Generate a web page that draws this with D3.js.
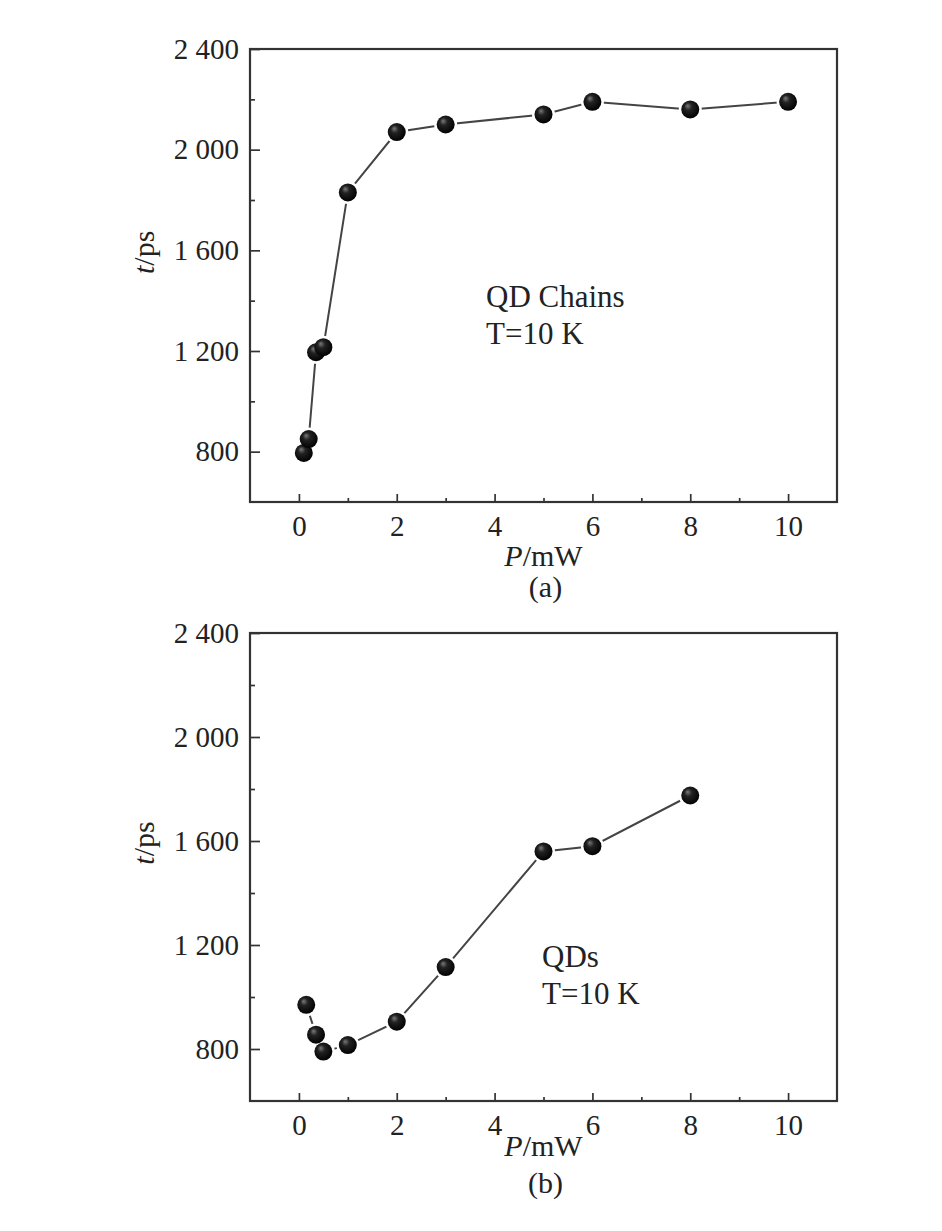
<!DOCTYPE html>
<html>
<head>
<meta charset="utf-8">
<script src="https://cdn.jsdelivr.net/npm/d3@7"></script>
<style>
  body { margin: 0; background: #fff; }
  svg { display: block; }
  text { font-family: "Liberation Serif", "Times New Roman", serif; fill: #222; }
</style>
</head>
<body>
<svg id="chart" width="942" height="1231"></svg>
<script>
// panel (a): QD chains
const powerA = [0.1, 0.2, 0.35, 0.5, 1, 2, 3, 5, 6, 8, 10];
const lifetimeA = [795, 850, 1195, 1215, 1830, 2070, 2100, 2140, 2190, 2160, 2190];
// panel (b): QDs
const powerB = [0.15, 0.35, 0.5, 1, 2, 3, 5, 6, 8];
const lifetimeB = [970, 855, 790, 815, 905, 1115, 1560, 1580, 1775];

const xMajor = [0, 2, 4, 6, 8, 10];
const xMinor = [1, 3, 5, 7, 9];
const yMajor = [800, 1200, 1600, 2000, 2400];
const yMinor = [1000, 1400, 1800, 2200];

const svg = d3.select("#chart");

const defs = svg.append("defs");
const ball = defs.append("radialGradient")
  .attr("id", "ball")
  .attr("cx", "45%").attr("cy", "42%")
  .attr("fx", "35%").attr("fy", "30%")
  .attr("r", "60%");
ball.append("stop").attr("offset", "0%").attr("stop-color", "#7a7a7a");
ball.append("stop").attr("offset", "35%").attr("stop-color", "#222");
ball.append("stop").attr("offset", "100%").attr("stop-color", "#000");

function drawPanel(opts) {
  const { left, right, top, bottom, xs, ys, note, tag, titleDy } = opts;
  const x = d3.scaleLinear().domain([-1, 11]).range([left, right]);
  const y = d3.scaleLinear().domain([600, 2400]).range([bottom, top]);
  const g = svg.append("g");

  // ticks pointing inward
  g.append("g").attr("transform", `translate(${left},0)`)
    .call(d3.axisLeft(y).tickValues(yMajor).tickSize(-10).tickSizeOuter(0).tickPadding(11)
      .tickFormat(d => d3.format(",")(d).replace(",", " ")));
  g.append("g").attr("transform", `translate(${left},0)`)
    .call(d3.axisLeft(y).tickValues(yMinor).tickSize(-5).tickSizeOuter(0).tickFormat(""));
  g.append("g").attr("transform", `translate(0,${bottom})`)
    .call(d3.axisBottom(x).tickValues(xMajor).tickSize(-8).tickSizeOuter(0).tickPadding(13));
  g.append("g").attr("transform", `translate(0,${bottom})`)
    .call(d3.axisBottom(x).tickValues(xMinor).tickSize(-4).tickSizeOuter(0).tickFormat(""));

  g.selectAll(".domain").remove();
  g.selectAll(".tick line").attr("stroke", "#333").attr("stroke-width", 1.7);
  g.selectAll(".tick text").attr("font-size", 29).attr("fill", "#222")
    .attr("font-family", "'Liberation Serif', 'Times New Roman', serif");

  g.append("rect")
    .attr("x", left).attr("y", top)
    .attr("width", right - left).attr("height", bottom - top)
    .attr("fill", "none").attr("stroke", "#333").attr("stroke-width", 2.2);

  const pts = xs.map((v, i) => [v, ys[i]]);
  const line = d3.line().x(d => x(d[0])).y(d => y(d[1]));
  g.append("path").datum(pts)
    .attr("fill", "none").attr("stroke", "#444").attr("stroke-width", 2)
    .attr("d", line);

  // white halo so the line stops short of each ball
  g.append("g").selectAll("circle").data(pts).join("circle")
    .attr("cx", d => x(d[0])).attr("cy", d => y(d[1])).attr("r", 11.5)
    .attr("fill", "#fff");
  g.append("g").selectAll("circle").data(pts).join("circle")
    .attr("cx", d => x(d[0])).attr("cy", d => y(d[1])).attr("r", 9)
    .attr("fill", "url(#ball)");

  // note text
  const t = g.append("text").attr("x", note.x).attr("y", note.y).attr("font-size", 31);
  t.append("tspan").attr("x", note.x).text(note.line1);
  t.append("tspan").attr("x", note.x).attr("dy", 37).text("T=10 K");

  // axis titles
  const xt = g.append("text").attr("x", (left + right) / 2).attr("y", bottom + titleDy)
    .attr("text-anchor", "middle").attr("font-size", 30);
  xt.append("tspan").attr("font-style", "italic").text("P");
  xt.append("tspan").text("/mW");

  const yt = g.append("text")
    .attr("transform", `translate(${left - 96},${y(1600) + 2}) rotate(-90)`)
    .attr("text-anchor", "middle").attr("font-size", 30);
  yt.append("tspan").attr("font-style", "italic").text("t");
  yt.append("tspan").text("/ps");

  g.append("text").attr("x", (left + right) / 2 + 2).attr("y", bottom + tag.dy)
    .attr("text-anchor", "middle").attr("font-size", 30).text(tag.text);
}

drawPanel({
  left: 250, right: 837, top: 49, bottom: 502,
  xs: powerA, ys: lifetimeA, titleDy: 64,
  note: { x: 486, y: 307, line1: "QD Chains" },
  tag: { text: "(a)", dy: 95 }
});

drawPanel({
  left: 250, right: 837, top: 633, bottom: 1101,
  xs: powerB, ys: lifetimeB, titleDy: 55,
  note: { x: 542, y: 967, line1: "QDs" },
  tag: { text: "(b)", dy: 92 }
});
</script>
</body>
</html>
